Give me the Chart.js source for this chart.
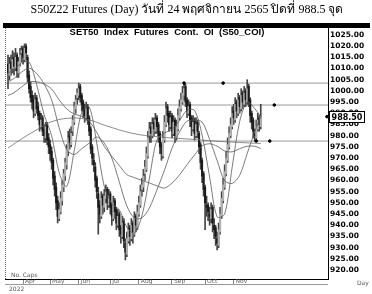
<!DOCTYPE html>
<html>
<head>
<meta charset="utf-8">
<script src="https://cdn.jsdelivr.net/npm/chart.js@4.4.0/dist/chart.umd.min.js"></script>
<style>
html, body { margin: 0; padding: 0; background: #fff; }
</style>
</head>
<body>
<canvas id="canvas" width="372" height="294"></canvas>
<script>
const titleText = 'S50Z22 Futures (Day) วันที่ 24 พฤศจิกายน 2565 ปิดที่ 988.5 จุด';
const seriesTitle = 'SET50  Index  Futures  Cont.  OI  (S50_COI)';

// daily candles, index = trading day (mid Mar -> 24 Nov 2022)
const opens = [1012,1007,1013,1010,1015,1010,1016,1008,1012,1017,1019,1014,1020,1015,1007,1002,998,996,990,997,
  993,990,984,988,983,979,985,979,976,973,969,962,957,951,943,946,951,957,962,967,
  973,980,976,982,986,992,997,998,1002,998,995,992,988,993,988,983,975,969,966,961,
  954,949,944,953,948,952,956,949,954,949,943,951,947,940,945,939,935,942,932,927,
  933,939,934,941,936,944,939,945,949,956,957,963,965,971,980,984,980,986,982,988,
  985,981,976,971,978,985,993,990,984,989,981,987,979,983,988,992,995,998,1002,996,
  990,994,988,983,987,980,986,981,976,969,963,957,949,949,945,943,948,940,939,934,
  931,937,944,951,957,963,969,975,980,984,991,987,995,990,997,992,999,994,1000,995,
  1002,996,990,987,981,979,983,988,984];
const highs = [1016,1015,1016,1018,1017,1019,1017,1015,1019,1020,1020,1021,1021,1016,1009,1004,1000,998,999,998,
  995,991,990,989,985,986,986,981,978,975,970,964,959,953,950,955,960,965,970,976,
  982,983,984,989,995,998,1001,1003.5,1003,999,996,994,995,994,989,984,976,972,968,962,
  957,951,955,954,956,958,957,956,955,950,953,952,948,947,946,940,944,943,934,937,
  941,940,943,942,946,945,949,953,958,961,965,969,975,982,986,986,988,988,990,989,
  986,982,977,982,989,995,994,991,991,990,989,988,987,992,996,999,1002,1003.5,1003,997,
  996,995,989,989,988,988,987,982,977,970,964,958,953,950,948,950,949,943,940,937,
  941,948,955,961,967,973,979,984,988,993,994,997,996,999,998,1001,1000,1002,1001,1005,
  1003,997,991,988,983,987,990,989,994];
const lows = [1001,1005,1007,1008,1007,1009,1006,1006,1011,1013,1012,1013,1014,1004,999,995,992,988,989,990,
  987,982,983,980,977,977,976,972,969,965,958,953,947,941,942,945,949,955,960,965,
  971,974,975,980,985,990,994,996,995,991,988,986,987,985,980,972,967,964,957,952,
  936,941,943,945,946,950,947,948,945,940,942,943,938,939,935,932,934,930,924.5,926,
  932,931,933,932,935,937,938,944,948,953,955,960,964,970,977,977,979,980,981,981,
  977,972,969,970,977,984,986,982,983,979,980,977,978,982,987,991,994,996,993,988,
  989,984,980,982,978,979,979,972,965,959,953,938,944,942,940,941,937,934,931,929,
  930,936,943,950,956,962,968,974,979,983,985,986,988,989,990,991,992,993,993,994,
  993,986,983,979,977.6,978,982,982,983];
const closes = [1008,1012,1010,1014,1011,1015,1009,1013,1016,1018,1015,1019,1017,1006,1001,997,995,991,996,992,
  989,985,987,982,980,984,978,975,972,968,961,956,950,944,947,952,958,963,968,974,
  979,977,981,987,993,996,999,1001,997,994,991,989,992,987,982,974,970,967,960,955,
  948,945,952,949,953,955,950,953,948,944,950,946,941,944,938,936,941,933,928,934,
  938,935,940,937,943,940,946,950,955,958,962,966,972,979,983,981,985,983,987,984,
  980,975,972,979,986,992,989,985,988,982,986,980,984,989,993,996,999,1001,995,991,
  993,987,984,986,981,985,982,975,968,962,956,950,948,946,944,947,941,938,935,932,
  938,945,952,958,964,970,976,981,985,990,988,994,991,996,993,998,995,999,996,1001,
  995,989,986,982,980,984,987,985,988.5];

// moving averages at sparse days
const maDays = [0,4,9,14,19,24,29,34,39,44,49,54,59,64,69,74,79,84,89,94,99,104,109,114,119,124,129,134,139,144,149,154,159,164,168];
const ma10 = [1008,1009.5,1012.6,1012.9,1002.9,989.4,980,963.5,957.3,973.2,990.4,992.8,976.7,957.3,949.7,946.9,939.1,936.5,944.2,961.1,
  978.2,981.2,982.8,986.8,991.4,991.3,980.3,961.6,943.7,945,965.9,986.4,995.1,992.1,988.5];
const ma25 = [1004,1005.6,1008.4,1010.2,1007.8,1003.1,996,983.5,973.8,971.6,974.2,976.7,979.4,976.7,970,959.3,948.6,943.2,943.3,947.8,
  955.8,964.6,974.4,981.7,986.5,986.9,986.1,978.4,968.9,959.9,958.7,962.3,972.1,981.7,988.6];
const ma50 = [998,999.2,1001.8,1004,1004.1,1003.1,1000.8,996,992,989.7,988.6,986.4,981.5,975.2,970.8,966.7,962.6,961.3,960,958.9,
  957.6,956.6,958.8,962.5,967.1,971.4,975.4,976.4,975.3,973.2,972.8,974.2,975.3,975.3,974.3];
const longDays = [0,10,20,28,40,53,65,83,100,120,140,168];
const longMa = [974.5,979,983,986,987.8,987.2,984.5,981,979.5,978.5,977.5,976.5];

// horizontal levels and marker dots
const levels = [1003.5, 993.7, 977.6];
const markerDays = [117, 143, 177, 165, 174, 212];
const markerValues = [1003.5, 1003.5, 993.7, 977.6, 977.6, 988.5];

const monthDays = [10, 28, 47, 68, 87, 109, 131, 150];
const monthNames = ['Apr', 'May', 'Jun', 'Jul', 'Aug', 'Sep', 'Oct', 'Nov'];
const priceTicks = [920,925,930,935,940,945,950,955,960,965,970,975,980,985,990,995,1000,1005,1010,1015,1020,1025];
const lastClose = 988.5;

const xMin = -2, xMax = 212.7;

const decorations = {
    id: 'decorations',
    beforeDraw(chart) {
        const ctx = chart.ctx;
        ctx.save();
        ctx.fillStyle = '#fff';
        ctx.fillRect(0, 0, chart.width, chart.height);
        ctx.restore();
    },
    afterDraw(chart) {
        const ctx = chart.ctx;
        const area = chart.chartArea;
        const y = chart.scales.y;
        ctx.save();
        // heading
        ctx.fillStyle = '#000';
        ctx.font = '12px "Liberation Serif"';
        ctx.textAlign = 'center';
        ctx.textBaseline = 'middle';
        ctx.fillText(titleText, 187, 10);
        ctx.fillRect(3, 23, 367, 5);
        ctx.font = 'bold 9.5px "Liberation Sans"';
        ctx.fillText(seriesTitle, 167, 32);

        // dotted left edge
        ctx.strokeStyle = '#666';
        ctx.lineWidth = 1;
        ctx.setLineDash([1, 1]);
        ctx.beginPath();
        ctx.moveTo(area.left + 0.5, area.top);
        ctx.lineTo(area.left + 0.5, area.bottom);
        ctx.stroke();
        ctx.setLineDash([]);

        // month band bottom line
        ctx.strokeStyle = '#999';
        ctx.beginPath();
        ctx.moveTo(area.left, area.bottom + 5.5);
        ctx.lineTo(area.right, area.bottom + 5.5);
        ctx.stroke();

        // small texts
        ctx.fillStyle = '#555';
        ctx.font = '6px "DejaVu Sans"';
        ctx.textAlign = 'left';
        ctx.fillText('No. Caps', 11, 275);
        ctx.fillText('2022', 9, 289);
        ctx.fillText('Day', 357, 283);

        // last value box
        const py = Math.round(y.getPixelForValue(lastClose));
        ctx.fillStyle = '#fff';
        ctx.fillRect(area.right + 1.5, py - 5.5, 35, 11);
        ctx.strokeStyle = '#000';
        ctx.strokeRect(area.right + 1.5, py - 5.5, 35, 11);
        ctx.fillStyle = '#000';
        ctx.font = 'bold 8px "DejaVu Sans"';
        ctx.textAlign = 'center';
        ctx.fillText(lastClose.toFixed(2), area.right + 19, py + 0.5);
        ctx.restore();
    }
};

const days = closes.map((c, i) => i);
const wickData = days.map(i => ({ x: i, y: [lows[i], highs[i]] }));
const bodyData = days.map(i => ({ x: i, y: [opens[i], closes[i]] }));
const bodyColors = days.map(i => closes[i] >= opens[i] ? '#b0b0b0' : '#1a1a1a');

const datasets = [
    {
        type: 'bar',
        data: wickData,
        backgroundColor: '#444',
        barThickness: 1,
        grouped: false,
        order: 3
    },
    {
        type: 'bar',
        data: bodyData,
        backgroundColor: bodyColors,
        barThickness: 1.4,
        grouped: false,
        order: 2
    }
];

levels.forEach(v => {
    datasets.push({
        type: 'line',
        data: [{ x: xMin, y: v }, { x: xMax, y: v }],
        borderColor: '#9a9a9a',
        borderWidth: 1,
        pointRadius: 0,
        order: 4
    });
});

[ma10, ma25, ma50].forEach(arr => {
    datasets.push({
        type: 'line',
        data: maDays.map((d, k) => ({ x: d, y: arr[k] })),
        borderColor: '#5a5a5a',
        borderWidth: 0.8,
        pointRadius: 0,
        tension: 0.3,
        order: 1
    });
});

datasets.push({
    type: 'line',
    data: longDays.map((d, k) => ({ x: d, y: longMa[k] })),
    borderColor: '#707070',
    borderWidth: 0.8,
    pointRadius: 0,
    tension: 0.4,
    order: 1
});

datasets.push({
    type: 'scatter',
    data: markerDays.map((d, k) => ({ x: d, y: markerValues[k] })),
    backgroundColor: '#000',
    borderColor: '#000',
    pointRadius: 1.3,
    showLine: false,
    order: 0
});

const chart = new Chart(document.getElementById('canvas'), {
    type: 'bar',
    data: { datasets: datasets },
    options: {
        responsive: false,
        devicePixelRatio: 1,
        animation: false,
        layout: { padding: { left: 5, top: 28, right: 0, bottom: 0 } },
        plugins: { legend: { display: false }, tooltip: { enabled: false } },
        scales: {
            x: {
                type: 'linear',
                min: xMin,
                max: xMax,
                offset: false,
                afterBuildTicks: scale => { scale.ticks = monthDays.map(v => ({ value: v })); },
                afterFit: scale => { scale.height = 15; },
                grid: { display: true, drawOnChartArea: false, drawTicks: true, tickLength: 5, color: '#888', offset: false },
                border: { display: true, color: '#000' },
                ticks: {
                    autoSkip: false,
                    maxRotation: 0,
                    align: 'start',
                    padding: -6,
                    color: '#666',
                    font: { family: 'DejaVu Sans', size: 6 },
                    callback: v => ' ' + monthNames[monthDays.indexOf(v)]
                }
            },
            y: {
                position: 'right',
                min: 916,
                max: 1028.1,
                afterBuildTicks: scale => { scale.ticks = priceTicks.map(v => ({ value: v })); },
                afterFit: scale => { scale.width = 44; },
                grid: { display: false, drawTicks: false },
                border: { display: true, color: '#000' },
                ticks: {
                    autoSkip: false,
                    padding: 2,
                    color: '#000',
                    font: { family: 'DejaVu Sans', size: 7.5, weight: 'bold' },
                    callback: v => Number(v).toFixed(2)
                }
            }
        }
    },
    plugins: [decorations]
});
</script>
</body>
</html>
